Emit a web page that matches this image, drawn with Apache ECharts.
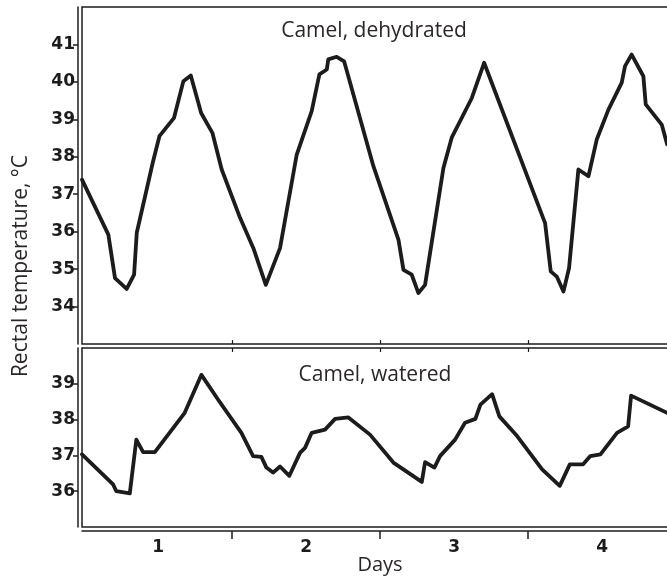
<!DOCTYPE html>
<html>
<head>
<meta charset="utf-8">
<title>Camel rectal temperature</title>
<script src="https://cdn.jsdelivr.net/npm/echarts@6/dist/echarts.min.js"></script>
<style>
  html, body { margin: 0; padding: 0; background: #fff; }
  #chart { width: 667px; height: 577px; }
</style>
</head>
<body>
<div id="chart"></div>
<script>
// Rectal temperature (°C) over four days, time in days
const dehydratedDays = [0.486, 0.664, 0.709, 0.788, 0.838, 0.856, 0.912, 0.964, 1.009, 1.108,
  1.171, 1.221, 1.291, 1.367, 1.430, 1.554, 1.644, 1.728, 1.824, 1.937,
  2.038, 2.090, 2.140, 2.150, 2.207, 2.257, 2.455, 2.624, 2.658, 2.714,
  2.759, 2.804, 2.928, 2.984, 3.120, 3.203, 3.615, 3.653, 3.694, 3.739,
  3.777, 3.840, 3.908, 3.964, 4.043, 4.133, 4.155, 4.200, 4.279, 4.295,
  4.403, 4.440];
const dehydratedTemp = [37.39, 35.92, 34.76, 34.47, 34.85, 35.97, 36.94, 37.84, 38.55, 39.04,
  40.02, 40.17, 39.17, 38.64, 37.66, 36.37, 35.56, 34.58, 35.56, 38.06,
  39.22, 40.20, 40.33, 40.60, 40.67, 40.55, 37.75, 35.79, 34.98, 34.85,
  34.36, 34.58, 37.70, 38.51, 39.57, 40.51, 36.23, 34.94, 34.80, 34.40,
  35.03, 37.66, 37.48, 38.46, 39.26, 39.98, 40.42, 40.73, 40.15, 39.40,
  38.86, 38.33];

const wateredDays = [0.486, 0.696, 0.718, 0.809, 0.853, 0.899, 0.978, 1.180, 1.293, 1.405,
  1.563, 1.642, 1.698, 1.732, 1.777, 1.824, 1.887, 1.959, 1.993, 2.038,
  2.128, 2.196, 2.286, 2.432, 2.590, 2.782, 2.804, 2.867, 2.905, 3.007,
  3.074, 3.144, 3.178, 3.257, 3.306, 3.426, 3.595, 3.714, 3.782, 3.872,
  3.921, 3.989, 4.101, 4.176, 4.196, 4.439];
const wateredTemp = [37.03, 36.19, 36.00, 35.94, 37.44, 37.09, 37.09, 38.19, 39.25, 38.56,
  37.63, 36.98, 36.96, 36.66, 36.52, 36.69, 36.43, 37.07, 37.21, 37.63,
  37.72, 38.02, 38.06, 37.58, 36.80, 36.26, 36.81, 36.66, 36.98, 37.44,
  37.91, 38.02, 38.42, 38.71, 38.09, 37.54, 36.61, 36.15, 36.75, 36.75,
  36.98, 37.03, 37.63, 37.81, 38.67, 38.19];

const dayLabels = [1, 2, 3, 4];
const dayBoundaries = [1.5, 2.5, 3.5];
const dehydratedTicks = [34, 35, 36, 37, 38, 39, 40, 41];
const wateredTicks = [36, 37, 38, 39];

const INK = '#1c1c1c';
const TEXT = '#2a2627';
const tickFont = { fontFamily: 'DejaVu Sans', fontWeight: 'bold', fontSize: 17, color: INK };

const chart = echarts.init(document.getElementById('chart'), null, { renderer: 'canvas' });

// 148 px per day; plot runs past the right edge so no right border shows
const plotWidth = 612;
const xMin = 0.486;
const xMax = xMin + plotWidth / 148;

const pairs = (xs, ys) => xs.map((x, i) => [x, ys[i]]);

chart.setOption({
  animation: false,
  backgroundColor: '#fff',
  grid: [
    { left: 82, top: 7, width: plotWidth, height: 337, outerBoundsMode: 'none', containLabel: false,
      show: true, borderColor: INK, borderWidth: 1.5, backgroundColor: 'transparent' },
    { left: 82, top: 348, width: plotWidth, height: 179, outerBoundsMode: 'none', containLabel: false,
      show: true, borderColor: INK, borderWidth: 1.5, backgroundColor: 'transparent' }
  ],
  xAxis: [
    {
      gridIndex: 0, type: 'value', min: xMin, max: xMax, position: 'bottom',
      axisLine: { show: false },
      axisTick: { show: true, inside: true, length: 4, lineStyle: { color: INK, width: 1.2 }, customValues: dayBoundaries },
      axisLabel: { show: false },
      splitLine: { show: false }
    },
    {
      gridIndex: 1, type: 'value', min: xMin, max: xMax, position: 'bottom', offset: 4,
      axisLine: { show: true, onZero: false, lineStyle: { color: INK, width: 1.5 } },
      axisTick: { show: true, length: 8, lineStyle: { color: INK, width: 1.5 }, customValues: dayBoundaries },
      axisLabel: { show: true, margin: 8, customValues: dayLabels, ...tickFont },
      splitLine: { show: false }
    },
    {
      gridIndex: 1, type: 'value', min: xMin, max: xMax, position: 'top',
      axisLine: { show: false },
      axisTick: { show: true, inside: true, length: 4, lineStyle: { color: INK, width: 1.2 }, customValues: dayBoundaries },
      axisLabel: { show: false },
      splitLine: { show: false }
    }
  ],
  yAxis: [
    {
      gridIndex: 0, type: 'value', min: 33, max: 42, offset: 4,
      axisLine: { show: true, onZero: false, lineStyle: { color: INK, width: 1.5 } },
      axisTick: { show: true, length: 5, lineStyle: { color: INK, width: 1.5 }, customValues: dehydratedTicks },
      axisLabel: { show: true, margin: 3, customValues: dehydratedTicks, ...tickFont },
      splitLine: { show: false }
    },
    {
      gridIndex: 1, type: 'value', min: 35, max: 40, offset: 4,
      axisLine: { show: true, onZero: false, lineStyle: { color: INK, width: 1.5 } },
      axisTick: { show: true, length: 5, lineStyle: { color: INK, width: 1.5 }, customValues: wateredTicks },
      axisLabel: { show: true, margin: 3, customValues: wateredTicks, ...tickFont },
      splitLine: { show: false }
    }
  ],
  series: [
    {
      name: 'Camel, dehydrated', type: 'line', xAxisIndex: 0, yAxisIndex: 0,
      data: pairs(dehydratedDays, dehydratedTemp),
      showSymbol: false, smooth: false,
      lineStyle: { color: INK, width: 3.8, join: 'round', cap: 'round' }
    },
    {
      name: 'Camel, watered', type: 'line', xAxisIndex: 1, yAxisIndex: 1,
      data: pairs(wateredDays, wateredTemp),
      showSymbol: false, smooth: false,
      lineStyle: { color: INK, width: 3.8, join: 'round', cap: 'round' }
    }
  ],
  graphic: [
    {
      type: 'text', x: 374, y: 31,
      style: { text: 'Camel, dehydrated', fill: TEXT, font: '21px "Open Sans"', textAlign: 'center', textVerticalAlign: 'middle' }
    },
    {
      type: 'text', x: 375, y: 375,
      style: { text: 'Camel, watered', fill: TEXT, font: '21px "Open Sans"', textAlign: 'center', textVerticalAlign: 'middle' }
    },
    {
      type: 'text', x: 380, y: 565,
      style: { text: 'Days', fill: TEXT, font: '20px "Open Sans"', textAlign: 'center', textVerticalAlign: 'middle' }
    },
    {
      type: 'text', x: 21, y: 266, rotation: Math.PI / 2,
      style: { text: 'Rectal temperature, °C', fill: TEXT, font: '21px "Open Sans"', textAlign: 'center', textVerticalAlign: 'middle' }
    }
  ]
});
</script>
</body>
</html>
